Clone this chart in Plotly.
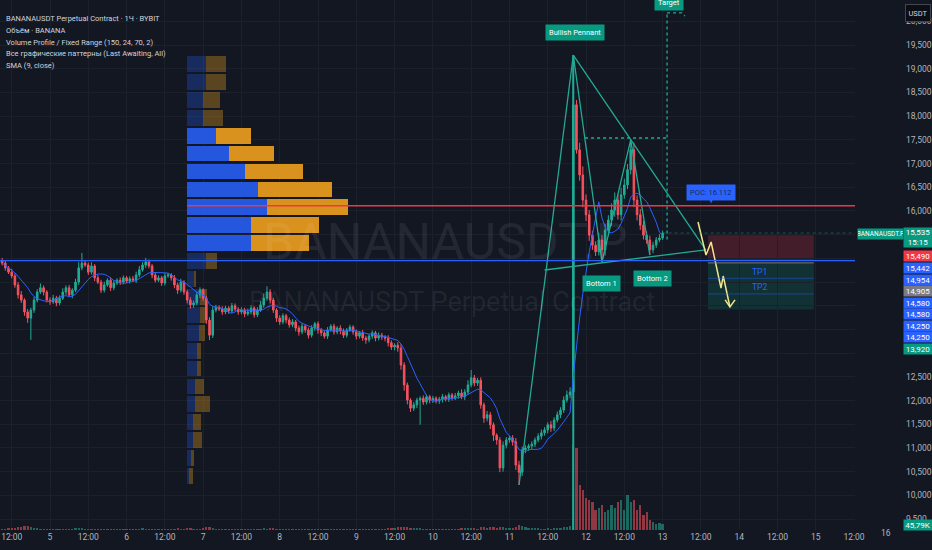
import plotly.graph_objects as go
import pandas as pd

F = "Liberation Sans Narrow, Roboto, sans-serif"
BG = "#131722"
GREEN = "#22ab94"
RED = "#f7525f"
BLUE = "#2962ff"
TEAL = "#22ab94"
LBL_GREEN = "#089981"

# ---------------- data (1H candles, x = hours since day 4 00:00) ----------------
FIRST_HOUR = 9
OPEN0 = 14950
closes = [
    14900, 14800, 14710, 14630, 14440, 14230, 14120, 13870, 13740, 13910,
    14120, 14290, 14380, 14290, 14120, 14080, 14160, 14060, 14160, 14290,
    14380, 14230, 14330, 14500, 14800, 14900, 14860, 14710, 14840, 14590,
    14500, 14330, 14440, 14540, 14380, 14480, 14540, 14500, 14590, 14520,
    14570, 14540, 14650, 14760, 14860, 14925, 14840, 14650, 14540, 14590,
    14480, 14630, 14650, 14590, 14440, 14330, 14500, 14290, 14120, 14020,
    14060, 14230, 14330, 14160, 13700, 13380, 13910, 13970, 13930, 13870,
    13950, 13890, 14000, 13930, 13870, 13910, 13830, 13870, 13950, 13810,
    13910, 14020, 14160, 14290, 14120, 13910, 13740, 13660, 13790, 13700,
    13600, 13660, 13530, 13450, 13570, 13490, 13380, 13530, 13620, 13490,
    13430, 13360, 13490, 13570, 13450, 13530, 13470, 13380, 13490, 13550,
    13450, 13360, 13430, 13320, 13280, 13360, 13430, 13320, 13380, 13340,
    13320, 13220, 13130, 13170, 13110, 12750, 12330, 12010, 11840, 11910,
    12010, 12050, 11970, 12080, 12010, 12050, 11990, 12030, 12080, 12030,
    12120, 12050, 12100, 12160, 12080, 12180, 12330, 12480, 12370, 12430,
    11910, 11630, 11700, 11490, 11270, 11170, 10580, 11060, 11170, 11210,
    11130, 10640, 10490, 10960, 11000, 11040, 11080, 11170, 11250, 11320,
    11380, 11490, 11420, 11590, 11700, 11800, 12010, 12120, 12180, 18240,
    17290, 16760, 16230, 15920, 15490, 15280, 15140, 15390, 15180, 15600,
    15810, 16020, 16230, 15920, 16340, 16550, 16870, 17290, 16230, 15920,
    15700, 15490, 15390, 15180, 15280, 15390, 15430, 15535]
wick_up = [
    60, 50, 40, 70, 50, 60, 80, 40, 60, 50,
    70, 60, 90, 50, 40, 60, 70, 50, 60, 80,
    50, 60, 40, 70, 120, 215, 60, 50, 80, 40,
    60, 50, 70, 40, 60, 50, 40, 60, 50, 40,
    50, 60, 70, 80, 60, 85, 50, 40, 60, 50,
    40, 60, 50, 40, 60, 50, 70, 40, 50, 60,
    50, 70, 60, 40, 50, 60, 80, 50, 40, 60,
    50, 40, 60, 50, 40, 60, 50, 70, 60, 40,
    60, 80, 100, 120, 60, 50, 40, 60, 50, 40,
    50, 60, 40, 50, 60, 40, 50, 60, 40, 50,
    40, 50, 60, 40, 50, 40, 60, 50, 40, 50,
    40, 50, 40, 60, 50, 40, 50, 40, 60, 50,
    40, 60, 50, 40, 60, 80, 60, 50, 40, 60,
    50, 40, 60, 50, 40, 50, 40, 50, 60, 40,
    50, 40, 60, 50, 80, 60, 100, 165, 60, 50,
    60, 50, 80, 60, 50, 40, 60, 80, 60, 50,
    60, 80, 90, 70, 60, 50, 60, 50, 60, 70,
    60, 50, 80, 60, 70, 60, 80, 90, 100, 1050,
    100, 150, 180, 120, 100, 90, 80, 150, 100, 120,
    100, 140, 160, 120, 150, 130, 120, 210, 150, 100,
    120, 100, 80, 90, 70, 60, 80, 50]
wick_dn = [
    50, 60, 40, 50, 60, 80, 60, 80, 100, 460,
    60, 50, 40, 70, 50, 60, 40, 70, 50, 40,
    60, 50, 70, 40, 60, 50, 40, 60, 50, 70,
    40, 60, 50, 40, 70, 50, 40, 60, 50, 40,
    50, 40, 60, 50, 40, 60, 50, 70, 50, 40,
    60, 50, 40, 60, 70, 80, 50, 60, 70, 80,
    60, 50, 70, 60, 80, 100, 60, 50, 40, 60,
    50, 60, 40, 50, 60, 50, 70, 40, 50, 60,
    50, 40, 60, 50, 70, 60, 80, 60, 50, 70,
    60, 50, 70, 80, 50, 60, 70, 50, 60, 80,
    70, 50, 60, 40, 60, 50, 70, 60, 50, 40,
    60, 70, 50, 60, 80, 50, 60, 70, 50, 60,
    70, 80, 60, 70, 80, 100, 120, 90, 80, 60,
    70, 520, 60, 50, 70, 60, 50, 60, 70, 50,
    60, 50, 40, 60, 50, 70, 60, 50, 70, 60,
    80, 100, 70, 90, 120, 100, 90, 80, 70, 60,
    80, 100, 270, 80, 70, 60, 70, 60, 50, 70,
    60, 70, 80, 60, 50, 70, 60, 50, 70, 60,
    80, 120, 150, 130, 120, 100, 90, 80, 255, 120,
    100, 120, 140, 100, 120, 80, 90, 100, 150, 120,
    100, 90, 80, 110, 70, 60, 50, 40]
volumes_k = [
    8, 10, 12, 14, 18, 25, 22, 28, 30, 20,
    14, 12, 10, 9, 8, 10, 7, 9, 8, 7,
    8, 9, 10, 12, 14, 16, 10, 9, 8, 11,
    9, 10, 8, 7, 9, 8, 6, 7, 6, 7,
    6, 7, 8, 10, 12, 11, 9, 10, 8, 7,
    9, 8, 7, 8, 10, 12, 9, 11, 13, 12,
    10, 9, 11, 14, 20, 22, 15, 10, 9, 8,
    9, 8, 10, 9, 8, 9, 8, 10, 9, 8,
    9, 11, 12, 10, 14, 12, 11, 9, 8, 9,
    10, 8, 9, 8, 7, 8, 9, 7, 8, 7,
    6, 7, 6, 8, 7, 6, 7, 8, 6, 7,
    7, 8, 7, 9, 8, 7, 8, 7, 8, 9,
    10, 12, 14, 18, 22, 26, 24, 20, 16, 14,
    12, 15, 10, 9, 8, 9, 8, 7, 8, 7,
    8, 9, 8, 10, 12, 14, 18, 16, 12, 10,
    22, 20, 16, 26, 20, 18, 24, 20, 14, 12,
    15, 25, 38, 28, 20, 18, 15, 13, 12, 11,
    10, 12, 11, 14, 16, 18, 22, 26, 30, 650,
    620, 340, 305, 245, 230, 215, 150, 170, 190, 140,
    150, 190, 170, 215, 230, 150, 265, 215, 230, 150,
    190, 115, 140, 76, 61, 46, 53, 45.79]

# volume profile (24 rows, bottom -> top), up / down volume
vp_up = [17, 34, 57, 57, 77, 77, 97, 97, 117, 127, 127, 70, 187,
         637, 637, 797, 704, 577, 417, 287, 157, 160, 187, 187]
vp_down = [40, 33, 87, 77, 150, 90, 40, 40, 60, 60, 70, 20, 107,
           577, 677, 807, 740, 577, 450, 353, 197, 167, 197, 197]
va_rows = list(range(13, 20))
VP_START_H = 67.0

# levels
POC = 16112
BLUE_LEVEL = 14954
ENTRY = 14905
STOP = 15490
TP1 = 14580
TP2 = 14250
TARGET_ZONE_LOW = 13920
LAST = 15535

# pattern geometry (hour, price)
pole_h, pole_p = [171, 188], [10220, 19290]
zig_h, zig_p = [188, 197, 206, 212], [19290, 14925, 17500, 15070]
upper_h, upper_p = [188, 229.5], [19290, 15180]
lower_h, lower_p = [179, 229.5], [14755, 15180]
tgt_h_line = [191.7, 217.4]
tgt_level = 17540
tgt_v_p = [15400, 20180]
tgt_top_h, tgt_top_p = [217.4, 222.0, 223.0], [20180, 20180, 20110]
proj_h = [227.1, 229.6, 231.2, 234.3, 235.0, 237.1]
proj_p = [15768, 15072, 15346, 14375, 14628, 13975]
zone_h = [230.2, 263.4]

X_RANGE = [8.33, 276.3]
Y_RANGE = [9270, 20451]
VOL_RANGE = [0, 4028]

# ---------------- derived ----------------
n = len(closes)
hours = [FIRST_HOUR + i for i in range(n)]
opens = [OPEN0] + closes[:-1]
highs = [max(o, c) + w for o, c, w in zip(opens, closes, wick_up)]
lows = [min(o, c) - w for o, c, w in zip(opens, closes, wick_dn)]
sma = pd.Series(closes).rolling(9, min_periods=1).mean()

fig = go.Figure()

# volume profile
rows = len(vp_up)
vp_lo, vp_hi = min(lows), max(highs)
step = (vp_hi - vp_lo) / rows
centers = [vp_lo + step * (k + 0.5) for k in range(rows)]
H_PER_UNIT = 0.1 / 3.19
up_w = [v * H_PER_UNIT for v in vp_up]
dn_w = [v * H_PER_UNIT for v in vp_down]
blue_cols = ["rgba(41,98,255,0.85)" if k in va_rows else "rgba(41,98,255,0.28)" for k in range(rows)]
orng_cols = ["rgba(240,160,30,0.9)" if k in va_rows else "rgba(240,160,30,0.33)" for k in range(rows)]
fig.add_trace(go.Bar(y=centers, x=up_w, base=[VP_START_H] * rows, orientation="h",
                     width=step * 0.88, marker=dict(color=blue_cols, line=dict(width=0)),
                     hoverinfo="skip"))
fig.add_trace(go.Bar(y=centers, x=dn_w, base=[VP_START_H + w for w in up_w], orientation="h",
                     width=step * 0.88, marker=dict(color=orng_cols, line=dict(width=0)),
                     hoverinfo="skip"))

# volume
vcol = ["rgba(34,171,148,0.55)" if c >= o else "rgba(247,82,95,0.55)" for o, c in zip(opens, closes)]
fig.add_trace(go.Bar(x=hours, y=volumes_k, yaxis="y2", width=0.7,
                     marker=dict(color=vcol, line=dict(width=0)), hoverinfo="skip"))

# pattern pole vertical (under candles)
fig.add_trace(go.Scatter(x=[pole_h[1], pole_h[1]], y=[Y_RANGE[0], pole_p[1]], mode="lines",
                         line=dict(color=TEAL, width=2), hoverinfo="skip"))

# candles
fig.add_trace(go.Candlestick(x=hours, open=opens, high=highs, low=lows, close=closes,
                             increasing=dict(line=dict(color=GREEN, width=1), fillcolor=GREEN),
                             decreasing=dict(line=dict(color=RED, width=1), fillcolor=RED),
                             whiskerwidth=0, hoverinfo="skip"))
# SMA
fig.add_trace(go.Scatter(x=hours, y=sma, mode="lines", line=dict(color=BLUE, width=1), hoverinfo="skip"))

for hx, pyv, dash in [(pole_h, pole_p, "solid"), (zig_h, zig_p, "solid"),
                      (upper_h, upper_p, "solid"), (lower_h, lower_p, "solid"),
                      (tgt_h_line, [tgt_level, tgt_level], "dot"),
                      ([tgt_h_line[1], tgt_h_line[1]], tgt_v_p, "dot"),
                      (tgt_top_h, tgt_top_p, "dot")]:
    fig.add_trace(go.Scatter(x=hx, y=pyv, mode="lines", line=dict(color=TEAL, width=1.3, dash=dash),
                             hoverinfo="skip"))

# projection zigzag + arrow head
fig.add_trace(go.Scatter(x=proj_h, y=proj_p, mode="lines", line=dict(color="#f0e68c", width=1.5),
                         hoverinfo="skip"))
fig.add_trace(go.Scatter(x=[proj_h[-1] - 1.5, proj_h[-1], proj_h[-1] + 1.6],
                         y=[proj_p[-1] + 150, proj_p[-1], proj_p[-1] + 150], mode="lines",
                         line=dict(color="#f0e68c", width=1.5), hoverinfo="skip"))

shapes = []
shapes.append(dict(type="rect", xref="x", yref="y", x0=zone_h[0], x1=zone_h[1], y0=BLUE_LEVEL, y1=STOP,
                   fillcolor="rgba(242,54,69,0.22)", line=dict(width=0), layer="below"))
shapes.append(dict(type="rect", xref="x", yref="y", x0=zone_h[0], x1=zone_h[1], y0=TARGET_ZONE_LOW, y1=ENTRY,
                   fillcolor="rgba(8,153,129,0.2)", line=dict(width=0), layer="below"))
for lvl, col in [(ENTRY, "#787b86"), (TP1, "rgba(41,98,255,0.45)"), (TP2, "rgba(41,98,255,0.45)")]:
    shapes.append(dict(type="line", xref="x", yref="y", x0=zone_h[0], x1=zone_h[1], y0=lvl, y1=lvl,
                       line=dict(color=col, width=1)))
shapes.append(dict(type="line", xref="paper", yref="y", x0=0, x1=1, y0=BLUE_LEVEL, y1=BLUE_LEVEL,
                   line=dict(color=BLUE, width=1.3)))
shapes.append(dict(type="line", xref="x", yref="y", x0=VP_START_H, x1=X_RANGE[1], y0=POC, y1=POC,
                   line=dict(color="#f23645", width=1.5)))
shapes.append(dict(type="line", xref="x", yref="y", x0=hours[-1], x1=X_RANGE[1], y0=LAST, y1=LAST,
                   line=dict(color="rgba(8,153,129,0.5)", width=1, dash="dot")))
shapes.append(dict(type="path", xref="x", yref="y",
                   path="M 230.6 16250 L 231.8 16250 L 231.2 16160 Z",
                   fillcolor=BLUE, line=dict(width=0)))

ann = []
def box(text, h, p, bg, fc="white", size=7.5):
    ann.append(dict(x=h, y=p, xref="x", yref="y", text=text, showarrow=False, bgcolor=bg,
                    font=dict(family=F, size=size, color=fc), borderpad=3))

box("Bullish Pennant", 188.5, 19756, LBL_GREEN)
box("Target", 218.0, 20390, LBL_GREEN)
box("Bottom 1", 197.0, 14460, LBL_GREEN)
box("Bottom 2", 212.7, 14585, LBL_GREEN)
box("POC: 16.112", 231.2, 16400, BLUE, fc="#1a2a55")
ann.append(dict(x=246.5, y=14713, xref="x", yref="y", text="TP1", showarrow=False,
                font=dict(family=F, size=8.5, color=BLUE)))
ann.append(dict(x=246.5, y=14397, xref="x", yref="y", text="TP2", showarrow=False,
                font=dict(family=F, size=8.5, color=BLUE)))

PW, PH = 855.0, 530.0
def px(x): return x / PW
def py(y): return (PH - y) / PH

ann.append(dict(x=px(445), y=py(242), xref="paper", yref="paper", text="BANANAUSDT.P", showarrow=False,
                font=dict(family="Roboto, sans-serif", size=50, color="rgba(255,255,255,0.07)")))
ann.append(dict(x=px(452), y=py(302), xref="paper", yref="paper", text="BANANAUSDT Perpetual Contract",
                showarrow=False, font=dict(family="Roboto, sans-serif", size=27, color="rgba(255,255,255,0.07)")))

legend_lines = ["BANANAUSDT Perpetual Contract · 1Ч · BYBIT", "Объём · BANANA",
                "Volume Profile / Fixed Range (150, 24, 70, 2)",
                "Все графические паттерны (Last Awaiting, All)", "SMA (9, close)"]
for k, t in enumerate(legend_lines):
    ann.append(dict(x=px(4), y=py(12 + 11.8 * k), xref="paper", yref="paper", text=t, showarrow=False,
                    xanchor="left", font=dict(family=F, size=7.5, color="#d1d4dc")))

right_labels = [("15,490", 256, "#f23645"), ("15,442", 268, BLUE), ("14,954", 280, BLUE),
                ("14,905", 291, "#787b86"), ("14,580", 303, BLUE), ("14,580", 314, BLUE),
                ("14,250", 326, BLUE), ("14,250", 337, BLUE), ("13,920", 349, LBL_GREEN),
                ("45,79K", 525, LBL_GREEN)]
for t, yy, c in right_labels:
    ann.append(dict(x=px(903), y=py(yy), xref="paper", yref="paper", text=t, showarrow=False,
                    xanchor="left", yanchor="middle", bgcolor=c, width=28, height=10, borderpad=0,
                    font=dict(family=F, size=8, color="white")))
ann.append(dict(x=px(903), y=py(237.5), xref="paper", yref="paper", text="15,535<br>15:15", showarrow=False,
                xanchor="left", yanchor="middle", bgcolor=LBL_GREEN, width=28, height=19, borderpad=0,
                font=dict(family=F, size=8, color="white")))
ann.append(dict(x=px(857), y=py(234), xref="paper", yref="paper", text="BANANAUSDT.P", showarrow=False,
                xanchor="left", yanchor="middle", bgcolor=LBL_GREEN, width=45, height=10, borderpad=0,
                font=dict(family=F, size=6.5, color="white")))
ann.append(dict(x=px(917.5), y=py(13), xref="paper", yref="paper", text="USDT", showarrow=False,
                xanchor="center", yanchor="middle", bgcolor="#0c0e15", bordercolor="#434651", borderwidth=1,
                width=22, height=14, borderpad=1, font=dict(family=F, size=7.5, color="#d1d4dc")))
ann.append(dict(x=px(893), y=py(540), xref="paper", yref="paper", text="16", showarrow=False,
                font=dict(family=F, size=8.5, color="#b2b5be")))

x_ticks = list(range(12, 277, 12))
x_text = ["12:00" if h % 24 == 12 else str(4 + h // 24) for h in x_ticks]
y_ticks = list(range(9500, 20001, 500))
hidden = {13000, 13500, 14000, 14500, 15000, 15500}
y_text = ["" if v in hidden else f"{v:,}" for v in y_ticks]

fig.update_layout(
    width=932, height=550, margin=dict(l=0, r=77, t=0, b=20, autoexpand=False),
    paper_bgcolor=BG, plot_bgcolor=BG, showlegend=False, barmode="overlay", bargap=0,
    shapes=shapes, annotations=ann,
    xaxis=dict(range=X_RANGE, tickvals=x_ticks, ticktext=x_text, showgrid=True, gridcolor="#1c202b",
               zeroline=False, showline=False, ticks="", rangeslider=dict(visible=False),
               automargin=False, tickfont=dict(family=F, size=8.5, color="#b2b5be")),
    yaxis=dict(range=Y_RANGE, side="right", tickvals=y_ticks, ticktext=y_text, showgrid=True,
               gridcolor="#1c202b", zeroline=False, showline=False, ticks="", ticklabelstandoff=50,
               automargin=False, tickfont=dict(family=F, size=8.5, color="#b2b5be")),
    yaxis2=dict(range=VOL_RANGE, overlaying="y", visible=False),
)

fig.write_html("out.html", config={"displayModeBar": False},
               post_script="document.body.style.margin='0px';document.body.style.background='%s';" % BG)
